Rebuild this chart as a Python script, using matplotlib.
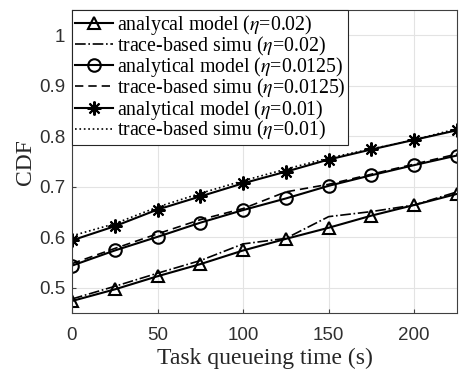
import matplotlib
matplotlib.use("Agg")
import matplotlib.pyplot as plt
import numpy as np

plt.rcParams['mathtext.fontset'] = 'stix'

t = [0, 25, 50, 75, 100, 125, 150, 175, 200, 225]

# eta = 0.02
model_02 = [0.474, 0.497, 0.523, 0.547, 0.574, 0.597, 0.619, 0.643, 0.664, 0.686]
simu_02 = [0.478, 0.503, 0.529, 0.554, 0.587, 0.598, 0.641, 0.651, 0.664, 0.690]
# eta = 0.0125
model_0125 = [0.544, 0.574, 0.601, 0.629, 0.654, 0.677, 0.702, 0.723, 0.743, 0.762]
simu_0125 = [0.548, 0.578, 0.607, 0.635, 0.657, 0.690, 0.705, 0.725, 0.745, 0.765]
# eta = 0.01
model_01 = [0.594, 0.622, 0.655, 0.681, 0.707, 0.730, 0.754, 0.774, 0.793, 0.812]
simu_01 = [0.603, 0.627, 0.660, 0.687, 0.712, 0.735, 0.757, 0.775, 0.793, 0.815]

fig = plt.figure(figsize=(4.6, 3.71), dpi=100)
ax = fig.add_axes([0.1565, 0.156, 0.837, 0.817])

ms = 9
ax.plot(t, model_02, 'k-', marker='^', ms=ms, mfc='none', mew=1.5, lw=1.5,
        label=r'analycal model ($\eta$=0.02)')
ax.plot(t, simu_02, 'k-.', lw=1.2, label=r'trace-based simu ($\eta$=0.02)')
ax.plot(t, model_0125, 'k-', marker='o', ms=ms, mfc='none', mew=1.5, lw=1.5,
        label=r'analytical model ($\eta$=0.0125)')
ax.plot(t, simu_0125, 'k--', lw=1.2, dashes=(5, 3),
        label=r'trace-based simu ($\eta$=0.0125)')
ax.plot(t, model_01, 'k-', marker=(8, 2, 0), ms=ms + 1, mew=1.5, lw=1.5,
        label=r'analytical model ($\eta$=0.01)')
ax.plot(t, simu_01, 'k:', lw=1.2, label=r'trace-based simu ($\eta$=0.01)')

ax.set_xlim(0, 225)
ax.set_ylim(0.45, 1.05)
ax.set_xticks([0, 50, 100, 150, 200])
ax.set_yticks([0.5, 0.6, 0.7, 0.8, 0.9, 1.0])
ax.set_yticklabels(['0.5', '0.6', '0.7', '0.8', '0.9', '1'])
ax.grid(True, color='#e3e3e3', lw=0.8)
ax.set_axisbelow(True)
for s in ax.spines.values():
    s.set_color('#404040')
ax.tick_params(direction='in', length=3, colors='#404040', labelsize=13.5,
               labelcolor='#303030')
ax.tick_params(axis='x', pad=10)
ax.tick_params(axis='y', pad=5)
for lab in ax.get_xticklabels() + ax.get_yticklabels():
    lab.set_family('Liberation Sans')

ax.set_xlabel('Task queueing time (s)', family='Liberation Serif', fontsize=17,
              color='#262626', labelpad=3)
ax.set_ylabel('CDF', family='Liberation Serif', fontsize=17, color='#262626',
              labelpad=2)

leg = ax.legend(loc='upper left', borderaxespad=0, frameon=True, fancybox=False,
                prop={'family': 'Liberation Serif', 'size': 14.3},
                handlelength=1.9, handletextpad=0.2, labelspacing=-0.12,
                borderpad=0.15, framealpha=1)
leg.get_frame().set_edgecolor('#262626')
leg.get_frame().set_linewidth(0.8)

fig.savefig('out.png', dpi=100)
